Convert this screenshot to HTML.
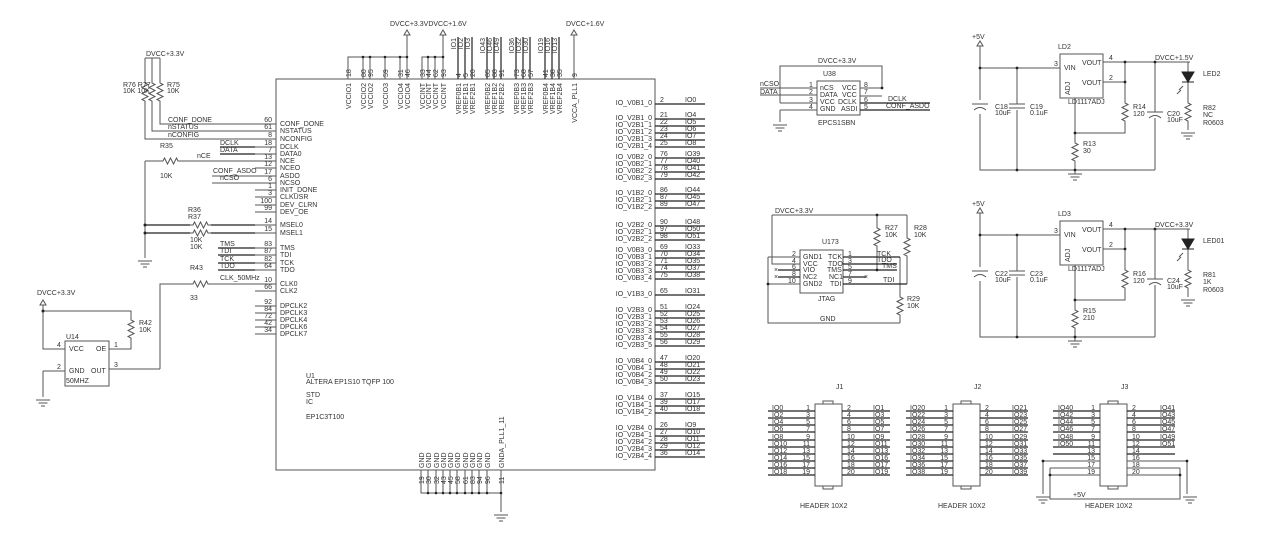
<!DOCTYPE html>
<html><head><meta charset="utf-8"><style>
html,body{margin:0;padding:0;background:#fff}
svg{display:block}
text{font-family:"Liberation Sans",sans-serif;font-size:7px;fill:#333}
.l{stroke:#555;stroke-width:1;fill:none}
.k{stroke:#222;stroke-width:1.2;fill:none}
.m{text-anchor:end}
</style></head><body>
<svg width="1268" height="541" viewBox="0 0 1268 541" xmlns="http://www.w3.org/2000/svg">
<defs>
<g id="gnd"><path d="M-7 0H7M-4.5 3H4.5M-2 6H2" stroke="#555" fill="none"/></g>
<path id="rv" d="M0 0l0 3l3 1.5l-6 3l6 3l-6 3l6 3l-6 3l3 1.5l0 3" stroke="#555" fill="none"/>
<path id="rh" d="M0 0l3 0l1.5 -3l3 6l3 -6l3 6l3 -6l1.5 3l3 0" stroke="#555" fill="none"/>
</defs>

<!-- ===== U1 main box ===== -->
<rect x="276" y="79" width="379" height="391" class="l"/>
<text x="306" y="378">U1</text>
<text x="306" y="384">ALTERA EP1S10 TQFP 100</text>
<text x="306" y="397">STD</text>
<text x="306" y="404">IC</text>
<text x="306" y="419">EP1C3T100</text>

<!-- left pins -->
<g class="l">
<path d="M255 124H276M255 131H276M255 139H276M255 147H276M255 154H276M255 161H276M255 168H276M255 176H276M255 183H276M255 190H276M255 197H276M255 205H276M255 212H276M255 225H276M255 233H276M255 248H276M255 255H276M255 263H276M255 270H276M255 284H276M255 291H276M255 306H276M255 313H276M255 320H276M255 327H276M255 334H276"/>
</g>
<g class="m">
<text x="272" y="122">60</text><text x="272" y="129">61</text><text x="272" y="137">8</text><text x="272" y="145">18</text><text x="272" y="152">7</text><text x="272" y="159">13</text><text x="272" y="166">12</text><text x="272" y="174">17</text><text x="272" y="181">6</text><text x="272" y="188">1</text><text x="272" y="195">3</text><text x="272" y="203">100</text><text x="272" y="210">99</text><text x="272" y="223">14</text><text x="272" y="231">15</text><text x="272" y="246">83</text><text x="272" y="253">87</text><text x="272" y="261">82</text><text x="272" y="268">64</text><text x="272" y="282">10</text><text x="272" y="289">66</text><text x="272" y="304">92</text><text x="272" y="311">84</text><text x="272" y="318">72</text><text x="272" y="325">42</text><text x="272" y="332">34</text>
</g>
<g>
<text x="280" y="126">CONF_DONE</text><text x="280" y="133">NSTATUS</text><text x="280" y="141">NCONFIG</text><text x="280" y="149">DCLK</text><text x="280" y="156">DATA0</text><text x="280" y="163">NCE</text><text x="280" y="170">NCEO</text><text x="280" y="178">ASDO</text><text x="280" y="185">NCSO</text><text x="280" y="192">INIT_DONE</text><text x="280" y="199">CLKUSR</text><text x="280" y="207">DEV_CLRN</text><text x="280" y="214">DEV_OE</text><text x="280" y="227">MSEL0</text><text x="280" y="235">MSEL1</text><text x="280" y="250">TMS</text><text x="280" y="257">TDI</text><text x="280" y="265">TCK</text><text x="280" y="272">TDO</text><text x="280" y="286">CLK0</text><text x="280" y="293">CLK2</text><text x="280" y="308">DPCLK2</text><text x="280" y="315">DPCLK3</text><text x="280" y="322">DPCLK4</text><text x="280" y="329">DPCLK6</text><text x="280" y="336">DPCLK7</text>
</g>

<!-- left circuitry -->
<text x="146" y="56">DVCC+3.3V</text>
<path class="l" d="M145 58H160M145 58V80M152 58V80M160 58V80"/>
<use href="#rv" x="145" y="80"/><use href="#rv" x="152" y="80"/><use href="#rv" x="160" y="80"/>
<path class="l" d="M145 101V139H255M152 101V131H255M160 101V124H255"/>
<text x="123" y="87">R76 R77</text><text x="123" y="93">10K  10K</text>
<text x="167" y="87">R75</text><text x="167" y="93">10K</text>
<text x="168" y="122">CONF_DONE</text><text x="168" y="129">nSTATUS</text><text x="168" y="137">nCONFIG</text>
<path class="k" d="M220 147H255M220 154H255"/>
<text x="220" y="145">DCLK</text><text x="220" y="152">DATA</text>
<text x="160" y="148">R35</text><text x="160" y="178">10K</text>
<path class="l" d="M145 161H160M181 161H255M145 161V258"/>
<use href="#rh" x="160" y="161"/>
<text x="197" y="158">nCE</text>
<use href="#gnd" x="145" y="261"/>
<path class="l" d="M212 176H255M212 183H255"/>
<text x="213" y="173">CONF_ASDO</text><text x="220" y="180">nCSO</text>
<path class="k" d="M145 225H190M211 225H255M145 233H190M211 233H255"/>
<use href="#rh" x="190" y="225"/><use href="#rh" x="190" y="233"/>
<circle cx="145" cy="225" r="1.5" fill="#222"/><circle cx="145" cy="233" r="1.5" fill="#222"/>
<text x="188" y="212">R36</text><text x="188" y="219">R37</text><text x="190" y="242">10K</text><text x="190" y="249">10K</text>
<path class="k" d="M218 248H255M218 255H255M218 263H255M218 270H255"/>
<text x="220" y="246">TMS</text><text x="220" y="253">TDI</text><text x="220" y="261">TCK</text><text x="220" y="268">TDO</text>
<text x="190" y="270">R43</text><text x="190" y="300">33</text><text x="220" y="280">CLK_50MHz</text>
<path class="l" d="M160 369V284H190M211 284H255"/>
<use href="#rh" x="190" y="284"/>
<!-- U14 -->
<text x="37" y="295">DVCC+3.3V</text>
<path class="l" d="M40 305L43 300L46 305Z"/>
<path class="l" d="M43 305V349H65M43 311H131V317M131 338V349H109M109 369H160M43 371H65M43 371V397"/>
<use href="#rv" x="131" y="317"/>
<circle cx="43" cy="311" r="1.5" fill="#222"/>
<use href="#gnd" x="43" y="400"/>
<rect x="65" y="341" width="44" height="45" class="l"/>
<text x="66" y="339">U14</text><text x="66" y="383">50MHZ</text>
<text x="69" y="351">VCC</text><text x="96" y="351">OE</text><text x="69" y="373">GND</text><text x="91" y="373">OUT</text>
<text x="57" y="347">4</text><text x="57" y="369">2</text><text x="114" y="347">1</text><text x="114" y="367">3</text>
<text x="139" y="325">R42</text><text x="139" y="332">10K</text>

<!-- top pins -->
<path class="l" d="M348 79V57H407M363 79V57M370 79V57M385 79V57M400 79V57M407 79V35M422 79V57H443M428 79V57M435 79V57M443 79V35M574 79V35"/>
<path class="l" d="M404 35L407 30L410 35ZM440 35L443 30L446 35ZM571 35L574 30L577 35Z"/>
<g fill="#222"><circle cx="363" cy="57" r="1.3"/><circle cx="370" cy="57" r="1.3"/><circle cx="385" cy="57" r="1.3"/><circle cx="400" cy="57" r="1.3"/><circle cx="407" cy="57" r="1.3"/><circle cx="428" cy="57" r="1.3"/><circle cx="435" cy="57" r="1.3"/><circle cx="443" cy="57" r="1.3"/></g>
<text x="390" y="26">DVCC+3.3VDVCC+1.6V</text><text x="566" y="26">DVCC+1.6V</text>
<path class="k" d="M458 79V37M465 79V37M472 79V37M487 79V37M494 79V37M501 79V37M516 79V37M523 79V37M530 79V37M545 79V37M552 79V37M559 79V37"/>
<g>
<text transform="rotate(-90 351 77)" x="351" y="77">18</text>
<text transform="rotate(-90 366 77)" x="366" y="77">80</text>
<text transform="rotate(-90 373 77)" x="373" y="77">95</text>
<text transform="rotate(-90 388 77)" x="388" y="77">59</text>
<text transform="rotate(-90 403 77)" x="403" y="77">31</text>
<text transform="rotate(-90 410 77)" x="410" y="77">46</text>
<text transform="rotate(-90 425 77)" x="425" y="77">33</text>
<text transform="rotate(-90 431 77)" x="431" y="77">44</text>
<text transform="rotate(-90 438 77)" x="438" y="77">62</text>
<text transform="rotate(-90 446 77)" x="446" y="77">93</text>
<text transform="rotate(-90 461 77)" x="461" y="77">4</text>
<text transform="rotate(-90 468 77)" x="468" y="77">5</text>
<text transform="rotate(-90 475 77)" x="475" y="77">20</text>
<text transform="rotate(-90 490 77)" x="490" y="77">85</text>
<text transform="rotate(-90 497 77)" x="497" y="77">88</text>
<text transform="rotate(-90 504 77)" x="504" y="77">91</text>
<text transform="rotate(-90 519 77)" x="519" y="77">73</text>
<text transform="rotate(-90 526 77)" x="526" y="77">68</text>
<text transform="rotate(-90 533 77)" x="533" y="77">57</text>
<text transform="rotate(-90 548 77)" x="548" y="77">41</text>
<text transform="rotate(-90 555 77)" x="555" y="77">38</text>
<text transform="rotate(-90 562 77)" x="562" y="77">35</text>
<text transform="rotate(-90 577 77)" x="577" y="77">9</text>
</g>
<g class="m">
<text transform="rotate(-90 351 83)" x="351" y="83">VCCIO1</text>
<text transform="rotate(-90 366 83)" x="366" y="83">VCCIO2</text>
<text transform="rotate(-90 373 83)" x="373" y="83">VCCIO2</text>
<text transform="rotate(-90 388 83)" x="388" y="83">VCCIO3</text>
<text transform="rotate(-90 403 83)" x="403" y="83">VCCIO4</text>
<text transform="rotate(-90 410 83)" x="410" y="83">VCCIO4</text>
<text transform="rotate(-90 425 83)" x="425" y="83">VCCINT</text>
<text transform="rotate(-90 431 83)" x="431" y="83">VCCINT</text>
<text transform="rotate(-90 438 83)" x="438" y="83">VCCINT</text>
<text transform="rotate(-90 446 83)" x="446" y="83">VCCINT</text>
<text transform="rotate(-90 461 83)" x="461" y="83">VREF0B1</text>
<text transform="rotate(-90 468 83)" x="468" y="83">VREF1B1</text>
<text transform="rotate(-90 475 83)" x="475" y="83">VREF2B1</text>
<text transform="rotate(-90 490 83)" x="490" y="83">VREF0B2</text>
<text transform="rotate(-90 497 83)" x="497" y="83">VREF1B2</text>
<text transform="rotate(-90 504 83)" x="504" y="83">VREF2B2</text>
<text transform="rotate(-90 519 83)" x="519" y="83">VREF0B3</text>
<text transform="rotate(-90 526 83)" x="526" y="83">VREF1B3</text>
<text transform="rotate(-90 533 83)" x="533" y="83">VREF2B3</text>
<text transform="rotate(-90 548 83)" x="548" y="83">VREF0B4</text>
<text transform="rotate(-90 555 83)" x="555" y="83">VREF1B4</text>
<text transform="rotate(-90 562 83)" x="562" y="83">VREF2B4</text>
<text transform="rotate(-90 577 83)" x="577" y="83">VCCA_PLL1</text>
<text transform="rotate(-90 456 38)" x="456" y="38">IO1</text>
<text transform="rotate(-90 463 38)" x="463" y="38">IO2</text>
<text transform="rotate(-90 470 38)" x="470" y="38">IO3</text>
<text transform="rotate(-90 485 38)" x="485" y="38">IO43</text>
<text transform="rotate(-90 492 38)" x="492" y="38">IO46</text>
<text transform="rotate(-90 499 38)" x="499" y="38">IO49</text>
<text transform="rotate(-90 514 38)" x="514" y="38">IO36</text>
<text transform="rotate(-90 521 38)" x="521" y="38">IO32</text>
<text transform="rotate(-90 528 38)" x="528" y="38">IO30</text>
<text transform="rotate(-90 543 38)" x="543" y="38">IO19</text>
<text transform="rotate(-90 550 38)" x="550" y="38">IO16</text>
<text transform="rotate(-90 557 38)" x="557" y="38">IO13</text>
</g>

<!-- right pins -->
<g class="k">
<path d="M655 104H705M655 119H705M655 126H705M655 133H705M655 140H705M655 147H705M655 158H705M655 165H705M655 172H705M655 179H705M655 194H705M655 201H705M655 208H705M655 226H705M655 233H705M655 240H705M655 251H705M655 258H705M655 265H705M655 272H705M655 279H705M655 295H705M655 311H705M655 318H705M655 325H705M655 332H705M655 339H705M655 346H705M655 362H705M655 369H705M655 376H705M655 383H705M655 399H705M655 406H705M655 413H705M655 429H705M655 436H705M655 443H705M655 450H705M655 457H705"/>
</g>
<g class="m">
<text x="652" y="105">IO_V0B1_0</text>
<text x="652" y="120">IO_V2B1_0</text><text x="652" y="127">IO_V2B1_1</text><text x="652" y="134">IO_V2B1_2</text><text x="652" y="141">IO_V2B1_3</text><text x="652" y="148">IO_V2B1_4</text>
<text x="652" y="159">IO_V0B2_0</text><text x="652" y="166">IO_V0B2_1</text><text x="652" y="173">IO_V0B2_2</text><text x="652" y="180">IO_V0B2_3</text>
<text x="652" y="195">IO_V1B2_0</text><text x="652" y="202">IO_V1B2_1</text><text x="652" y="209">IO_V1B2_2</text>
<text x="652" y="227">IO_V2B2_0</text><text x="652" y="234">IO_V2B2_1</text><text x="652" y="241">IO_V2B2_2</text>
<text x="652" y="252">IO_V0B3_0</text><text x="652" y="259">IO_V0B3_1</text><text x="652" y="266">IO_V0B3_2</text><text x="652" y="273">IO_V0B3_3</text><text x="652" y="280">IO_V0B3_4</text>
<text x="652" y="296">IO_V1B3_0</text>
<text x="652" y="312">IO_V2B3_0</text><text x="652" y="319">IO_V2B3_1</text><text x="652" y="326">IO_V2B3_2</text><text x="652" y="333">IO_V2B3_3</text><text x="652" y="340">IO_V2B3_4</text><text x="652" y="347">IO_V2B3_5</text>
<text x="652" y="363">IO_V0B4_0</text><text x="652" y="370">IO_V0B4_1</text><text x="652" y="377">IO_V0B4_2</text><text x="652" y="384">IO_V0B4_3</text>
<text x="652" y="400">IO_V1B4_0</text><text x="652" y="407">IO_V1B4_1</text><text x="652" y="414">IO_V1B4_2</text>
<text x="652" y="430">IO_V2B4_0</text><text x="652" y="437">IO_V2B4_1</text><text x="652" y="444">IO_V2B4_2</text><text x="652" y="451">IO_V2B4_3</text><text x="652" y="458">IO_V2B4_4</text>
</g>
<g>
<text x="660" y="102">2</text><text x="685" y="102">IO0</text>
<text x="660" y="117">21</text><text x="685" y="117">IO4</text><text x="660" y="124">22</text><text x="685" y="124">IO5</text><text x="660" y="131">23</text><text x="685" y="131">IO6</text><text x="660" y="138">24</text><text x="685" y="138">IO7</text><text x="660" y="145">25</text><text x="685" y="145">IO8</text>
<text x="660" y="156">76</text><text x="685" y="156">IO39</text><text x="660" y="163">77</text><text x="685" y="163">IO40</text><text x="660" y="170">78</text><text x="685" y="170">IO41</text><text x="660" y="177">79</text><text x="685" y="177">IO42</text>
<text x="660" y="192">86</text><text x="685" y="192">IO44</text><text x="660" y="199">87</text><text x="685" y="199">IO45</text><text x="660" y="206">89</text><text x="685" y="206">IO47</text>
<text x="660" y="224">90</text><text x="685" y="224">IO48</text><text x="660" y="231">97</text><text x="685" y="231">IO50</text><text x="660" y="238">98</text><text x="685" y="238">IO51</text>
<text x="660" y="249">69</text><text x="685" y="249">IO33</text><text x="660" y="256">70</text><text x="685" y="256">IO34</text><text x="660" y="263">71</text><text x="685" y="263">IO35</text><text x="660" y="270">74</text><text x="685" y="270">IO37</text><text x="660" y="277">75</text><text x="685" y="277">IO38</text>
<text x="660" y="293">65</text><text x="685" y="293">IO31</text>
<text x="660" y="309">51</text><text x="685" y="309">IO24</text><text x="660" y="316">52</text><text x="685" y="316">IO25</text><text x="660" y="323">53</text><text x="685" y="323">IO26</text><text x="660" y="330">54</text><text x="685" y="330">IO27</text><text x="660" y="337">55</text><text x="685" y="337">IO28</text><text x="660" y="344">56</text><text x="685" y="344">IO29</text>
<text x="660" y="360">47</text><text x="685" y="360">IO20</text><text x="660" y="367">48</text><text x="685" y="367">IO21</text><text x="660" y="374">49</text><text x="685" y="374">IO22</text><text x="660" y="381">50</text><text x="685" y="381">IO23</text>
<text x="660" y="397">37</text><text x="685" y="397">IO15</text><text x="660" y="404">39</text><text x="685" y="404">IO17</text><text x="660" y="411">40</text><text x="685" y="411">IO18</text>
<text x="660" y="427">26</text><text x="685" y="427">IO9</text><text x="660" y="434">27</text><text x="685" y="434">IO10</text><text x="660" y="441">28</text><text x="685" y="441">IO11</text><text x="660" y="448">29</text><text x="685" y="448">IO12</text><text x="660" y="455">36</text><text x="685" y="455">IO14</text>
</g>

<!-- bottom GND pins -->
<path class="l" d="M421 470V493H501M428 470V493M436 470V493M443 470V493M450 470V493M457 470V493M465 470V493M472 470V493M479 470V493M487 470V493M501 470V512"/>
<g fill="#222"><circle cx="428" cy="493" r="1.3"/><circle cx="436" cy="493" r="1.3"/><circle cx="443" cy="493" r="1.3"/><circle cx="450" cy="493" r="1.3"/><circle cx="457" cy="493" r="1.3"/><circle cx="465" cy="493" r="1.3"/><circle cx="472" cy="493" r="1.3"/><circle cx="479" cy="493" r="1.3"/><circle cx="487" cy="493" r="1.3"/><circle cx="501" cy="493" r="1.3"/></g>
<use href="#gnd" x="501" y="515"/>
<g>
<text transform="rotate(-90 424 468)" x="424" y="468">GND</text>
<text transform="rotate(-90 431 468)" x="431" y="468">GND</text>
<text transform="rotate(-90 439 468)" x="439" y="468">GND</text>
<text transform="rotate(-90 446 468)" x="446" y="468">GND</text>
<text transform="rotate(-90 453 468)" x="453" y="468">GND</text>
<text transform="rotate(-90 460 468)" x="460" y="468">GND</text>
<text transform="rotate(-90 468 468)" x="468" y="468">GND</text>
<text transform="rotate(-90 475 468)" x="475" y="468">GND</text>
<text transform="rotate(-90 482 468)" x="482" y="468">GND</text>
<text transform="rotate(-90 490 468)" x="490" y="468">GND</text>
<text transform="rotate(-90 504 468)" x="504" y="468">GNDA_PLL1_11</text>
<text transform="rotate(-90 424 484)" x="424" y="484">19</text>
<text transform="rotate(-90 431 484)" x="431" y="484">30</text>
<text transform="rotate(-90 439 484)" x="439" y="484">32</text>
<text transform="rotate(-90 446 484)" x="446" y="484">43</text>
<text transform="rotate(-90 453 484)" x="453" y="484">45</text>
<text transform="rotate(-90 460 484)" x="460" y="484">58</text>
<text transform="rotate(-90 468 484)" x="468" y="484">61</text>
<text transform="rotate(-90 475 484)" x="475" y="484">83</text>
<text transform="rotate(-90 482 484)" x="482" y="484">94</text>
<text transform="rotate(-90 490 484)" x="490" y="484">96</text>
<text transform="rotate(-90 504 484)" x="504" y="484">11</text>
</g>

<!-- ===== U38 EPCS ===== -->
<rect x="817" y="81" width="43" height="34" class="l"/>
<text x="818" y="63">DVCC+3.3V</text><text x="823" y="76">U38</text><text x="818" y="125">EPCS1SBN</text>
<path class="l" d="M760 88H817M760 95H817M780 103H817M780 110H817M780 103V66H882V88M860 88H882M860 96H882M780 110V122"/>
<circle cx="882" cy="88" r="1.4" fill="#222"/>
<use href="#gnd" x="780" y="125"/>
<path class="k" d="M860 103H930M860 110H930"/>
<text x="760" y="86">nCSO</text><text x="760" y="94">DATA</text>
<text x="888" y="101">DCLK</text><text x="886" y="108">CONF_ASDO</text>
<text x="809" y="87">1</text><text x="809" y="94">2</text><text x="809" y="102">3</text><text x="809" y="109">4</text>
<text x="864" y="87">8</text><text x="864" y="94">7</text><text x="864" y="102">6</text><text x="864" y="109">5</text>
<text x="820" y="90">nCS</text><text x="820" y="97">DATA</text><text x="820" y="104">VCC</text><text x="820" y="111">GND</text>
<text x="842" y="90">VCC</text><text x="842" y="97">VCC</text><text x="838" y="104">DCLK</text><text x="841" y="111">ASDI</text>

<!-- ===== JTAG ===== -->
<rect x="800" y="250" width="43" height="43" class="l"/>
<text x="775" y="213">DVCC+3.3V</text><text x="822" y="244">U173</text><text x="818" y="301">JTAG</text><text x="820" y="321">GND</text>
<path class="l" d="M772 215H907M772 215V264H800M768 257H800M768 257V323H900M768 284H800M877 215V225M877 246V270M907 215V235M907 256V284M900 257V294M900 315V323"/>
<use href="#rv" x="877" y="225"/><use href="#rv" x="907" y="235"/><use href="#rv" x="900" y="294"/>
<circle cx="877" cy="215" r="1.4" fill="#222"/><circle cx="877" cy="270" r="1.4" fill="#222"/><circle cx="768" cy="284" r="1.4" fill="#222"/>
<path class="k" d="M843 257H900M843 264H897M843 270H897M843 284H907M843 277H866M778 270H800M778 277H800"/>
<text x="864" y="279">×</text><text x="774" y="272">×</text><text x="774" y="279">×</text>
<text x="792" y="256">2</text><text x="792" y="263">4</text><text x="792" y="269">6</text><text x="792" y="276">8</text><text x="788" y="283">10</text>
<text x="848" y="256">1</text><text x="848" y="263">3</text><text x="848" y="269">5</text><text x="848" y="276">7</text><text x="848" y="283">9</text>
<text x="803" y="259">GND1</text><text x="803" y="266">VCC</text><text x="803" y="272">VIO</text><text x="803" y="279">NC2</text><text x="803" y="286">GND2</text>
<text x="828" y="259">TCK</text><text x="828" y="266">TDO</text><text x="827" y="272">TMS</text><text x="829" y="279">NC1</text><text x="830" y="286">TDI</text>
<text x="877" y="256">TCK</text><text x="877" y="262">TDO</text><text x="882" y="268">TMS</text><text x="883" y="282">TDI</text>
<text x="885" y="230">R27</text><text x="885" y="237">10K</text><text x="914" y="230">R28</text><text x="914" y="237">10K</text>
<text x="907" y="301">R29</text><text x="907" y="308">10K</text>

<!-- ===== Regulators ===== -->
<g id="reg1">
<text x="972" y="39">+5V</text>
<path class="l" d="M977 46L980 41L983 46Z"/>
<path class="l" d="M980 46V100M980 114V170H1155M1017 68V104M1017 110V170M980 68H1060M1103 62H1190M1103 82H1125M1125 62V100M1125 121V133H1075M1075 98V140M1075 161V170M1155 62V112M1155 118V170M1188 62V72M1188 82V100M1188 121V130"/>
<path class="l" d="M972 104H988M974 110Q980 105 986 110M1009 104H1025M1009 108H1025M1147 112H1163M1149 118Q1155 113 1161 118"/>
<use href="#rv" x="1125" y="100"/><use href="#rv" x="1075" y="140"/><use href="#rv" x="1188" y="100"/>
<path d="M1182 72H1194L1188 82Z M1182 82H1194" fill="#222" stroke="#222"/>
<path class="l" d="M1179 90l4 -4M1177 94l4 -4"/>
<use href="#gnd" x="1188" y="133"/><use href="#gnd" x="1075" y="174"/>
<path class="l" d="M1075 170V174"/>
<g fill="#222"><circle cx="980" cy="68" r="1.4"/><circle cx="1017" cy="68" r="1.4"/><circle cx="1017" cy="170" r="1.4"/><circle cx="1075" cy="170" r="1.4"/><circle cx="1075" cy="133" r="1.4"/><circle cx="1125" cy="62" r="1.4"/><circle cx="1125" cy="82" r="1.4"/><circle cx="1155" cy="62" r="1.4"/></g>
<rect x="1060" y="54" width="43" height="44" class="l"/>
<text x="1082" y="65">VOUT</text><text x="1082" y="85">VOUT</text><text x="1064" y="70">VIN</text>
<text transform="rotate(-90 1070 95)" x="1070" y="95">ADJ</text>
<text x="1054" y="66">3</text><text x="1109" y="60">4</text><text x="1109" y="80">2</text>
<text x="995" y="109">C18</text><text x="1030" y="109">C19</text>
<text x="1133" y="109">R14</text><text x="1133" y="116">120</text><text x="1167" y="116">C20</text><text x="1167" y="122">10uF</text>
<text x="1083" y="146">R13</text><text x="1203" y="76">LED2</text><text x="1203" y="110">R82</text>
</g>
<text x="1058" y="49">LD2</text><text x="1068" y="104">LD1117ADJ</text><text x="995" y="115">10uF</text><text x="1030" y="115">0.1uF</text>
<text x="1083" y="153">30</text><text x="1155" y="60">DVCC+1.5V</text><text x="1203" y="117">NC</text><text x="1203" y="125">R0603</text>

<g transform="translate(0 167)">
<text x="972" y="39">+5V</text>
<path class="l" d="M977 46L980 41L983 46Z"/>
<path class="l" d="M980 46V100M980 114V170H1155M1017 68V104M1017 110V170M980 68H1060M1103 62H1190M1103 82H1125M1125 62V100M1125 121V133H1075M1075 98V140M1075 161V170M1155 62V112M1155 118V170M1188 62V72M1188 82V100M1188 121V130"/>
<path class="l" d="M972 104H988M974 110Q980 105 986 110M1009 104H1025M1009 108H1025M1147 112H1163M1149 118Q1155 113 1161 118"/>
<use href="#rv" x="1125" y="100"/><use href="#rv" x="1075" y="140"/><use href="#rv" x="1188" y="100"/>
<path d="M1182 72H1194L1188 82Z M1182 82H1194" fill="#222" stroke="#222"/>
<path class="l" d="M1179 90l4 -4M1177 94l4 -4"/>
<use href="#gnd" x="1188" y="133"/><use href="#gnd" x="1075" y="174"/>
<path class="l" d="M1075 170V174"/>
<g fill="#222"><circle cx="980" cy="68" r="1.4"/><circle cx="1017" cy="68" r="1.4"/><circle cx="1017" cy="170" r="1.4"/><circle cx="1075" cy="170" r="1.4"/><circle cx="1075" cy="133" r="1.4"/><circle cx="1125" cy="62" r="1.4"/><circle cx="1125" cy="82" r="1.4"/><circle cx="1155" cy="62" r="1.4"/></g>
<rect x="1060" y="54" width="43" height="44" class="l"/>
<text x="1082" y="65">VOUT</text><text x="1082" y="85">VOUT</text><text x="1064" y="70">VIN</text>
<text transform="rotate(-90 1070 95)" x="1070" y="95">ADJ</text>
<text x="1054" y="66">3</text><text x="1109" y="60">4</text><text x="1109" y="80">2</text>
<text x="995" y="109">C22</text><text x="1030" y="109">C23</text>
<text x="1133" y="109">R16</text><text x="1133" y="116">120</text><text x="1167" y="116">C24</text><text x="1167" y="122">10uF</text>
<text x="1083" y="146">R15</text><text x="1203" y="76">LED01</text><text x="1203" y="110">R81</text>
<text x="1058" y="49">LD3</text><text x="1068" y="104">LD1117ADJ</text><text x="995" y="115">10uF</text><text x="1030" y="115">0.1uF</text>
<text x="1083" y="153">210</text><text x="1155" y="60">DVCC+3.3V</text><text x="1203" y="117">1K</text><text x="1203" y="125">R0603</text>
</g>

<!-- ===== Headers ===== -->
<g id="hdr">
<rect x="815" y="404" width="27" height="82" class="l"/>
<rect x="823" y="401" width="10" height="3" class="l"/><rect x="823" y="486" width="10" height="3" class="l"/>
</g>
<use href="#hdr" x="138"/><use href="#hdr" x="285"/>
<g class="k">
<path d="M768 411H815M768 418H815M768 425H815M768 432H815M768 440H815M768 447H815M768 454H815M768 461H815M768 468H815M768 475H815M842 411H890M842 418H890M842 425H890M842 432H890M842 440H890M842 447H890M842 454H890M842 461H890M842 468H890M842 475H890"/>
<path transform="translate(138 0)" d="M768 411H815M768 418H815M768 425H815M768 432H815M768 440H815M768 447H815M768 454H815M768 461H815M768 468H815M768 475H815M842 411H890M842 418H890M842 425H890M842 432H890M842 440H890M842 447H890M842 454H890M842 461H890M842 468H890M842 475H890"/>
<path transform="translate(285 0)" d="M768 411H815M768 418H815M768 425H815M768 432H815M768 440H815M768 447H815M768 454H815M842 411H890M842 418H890M842 425H890M842 432H890M842 440H890M842 447H890M842 454H890"/>
</g>
<path class="l" d="M1043 461H1100M1127 461H1187M1043 461V494M1187 461V494M1050 468H1100M1127 468H1180M1050 475H1100M1127 475H1180M1050 468V499H1180V468"/>
<g fill="#222"><circle cx="1043" cy="461" r="1.4"/><circle cx="1187" cy="461" r="1.4"/><circle cx="1050" cy="475" r="1.4"/><circle cx="1180" cy="475" r="1.4"/></g>
<use href="#gnd" x="1043" y="497"/><use href="#gnd" x="1190" y="497"/>
<text x="1073" y="497">+5V</text>
<text x="836" y="389">J1</text><text x="974" y="389">J2</text><text x="1121" y="389">J3</text>
<text x="800" y="508">HEADER 10X2</text><text x="938" y="508">HEADER 10X2</text><text x="1085" y="508">HEADER 10X2</text>
<g>
<text x="772" y="410">IO0</text><text x="772" y="417">IO2</text><text x="772" y="424">IO4</text><text x="772" y="431">IO6</text><text x="772" y="439">IO8</text><text x="772" y="446">IO10</text><text x="772" y="453">IO12</text><text x="772" y="460">IO14</text><text x="772" y="467">IO16</text><text x="772" y="474">IO18</text>
<text x="873" y="410">IO1</text><text x="873" y="417">IO3</text><text x="873" y="424">IO5</text><text x="873" y="431">IO7</text><text x="873" y="439">IO9</text><text x="873" y="446">IO11</text><text x="873" y="453">IO13</text><text x="873" y="460">IO16</text><text x="873" y="467">IO17</text><text x="873" y="474">IO19</text>
<text x="910" y="410">IO20</text><text x="910" y="417">IO22</text><text x="910" y="424">IO24</text><text x="910" y="431">IO26</text><text x="910" y="439">IO28</text><text x="910" y="446">IO30</text><text x="910" y="453">IO32</text><text x="910" y="460">IO34</text><text x="910" y="467">IO36</text><text x="910" y="474">IO38</text>
<text x="1012" y="410">IO21</text><text x="1012" y="417">IO23</text><text x="1012" y="424">IO25</text><text x="1012" y="431">IO27</text><text x="1012" y="439">IO29</text><text x="1012" y="446">IO31</text><text x="1012" y="453">IO33</text><text x="1012" y="460">IO35</text><text x="1012" y="467">IO37</text><text x="1012" y="474">IO39</text>
<text x="1058" y="410">IO40</text><text x="1058" y="417">IO42</text><text x="1058" y="424">IO44</text><text x="1058" y="431">IO46</text><text x="1058" y="439">IO48</text><text x="1058" y="446">IO50</text>
<text x="1160" y="410">IO41</text><text x="1160" y="417">IO43</text><text x="1160" y="424">IO45</text><text x="1160" y="431">IO47</text><text x="1160" y="439">IO49</text><text x="1160" y="446">IO51</text>
</g>
<g class="m">
<text x="810" y="410">1</text><text x="810" y="417">3</text><text x="810" y="424">5</text><text x="810" y="431">7</text><text x="810" y="439">9</text><text x="810" y="446">11</text><text x="810" y="453">13</text><text x="810" y="460">15</text><text x="810" y="467">17</text><text x="810" y="474">19</text>
<text x="948" y="410">1</text><text x="948" y="417">3</text><text x="948" y="424">5</text><text x="948" y="431">7</text><text x="948" y="439">9</text><text x="948" y="446">11</text><text x="948" y="453">13</text><text x="948" y="460">15</text><text x="948" y="467">17</text><text x="948" y="474">19</text>
<text x="1095" y="410">1</text><text x="1095" y="417">3</text><text x="1095" y="424">5</text><text x="1095" y="431">7</text><text x="1095" y="439">9</text><text x="1095" y="446">11</text><text x="1095" y="453">13</text><text x="1095" y="460">15</text><text x="1095" y="467">17</text><text x="1095" y="474">19</text>
</g>
<g>
<text x="847" y="410">2</text><text x="847" y="417">4</text><text x="847" y="424">6</text><text x="847" y="431">8</text><text x="847" y="439">10</text><text x="847" y="446">12</text><text x="847" y="453">14</text><text x="847" y="460">16</text><text x="847" y="467">18</text><text x="847" y="474">20</text>
<text x="985" y="410">2</text><text x="985" y="417">4</text><text x="985" y="424">6</text><text x="985" y="431">8</text><text x="985" y="439">10</text><text x="985" y="446">12</text><text x="985" y="453">14</text><text x="985" y="460">16</text><text x="985" y="467">18</text><text x="985" y="474">20</text>
<text x="1132" y="410">2</text><text x="1132" y="417">4</text><text x="1132" y="424">6</text><text x="1132" y="431">8</text><text x="1132" y="439">10</text><text x="1132" y="446">12</text><text x="1132" y="453">14</text><text x="1132" y="460">16</text><text x="1132" y="467">18</text><text x="1132" y="474">20</text>
</g>
</svg>
</body></html>
